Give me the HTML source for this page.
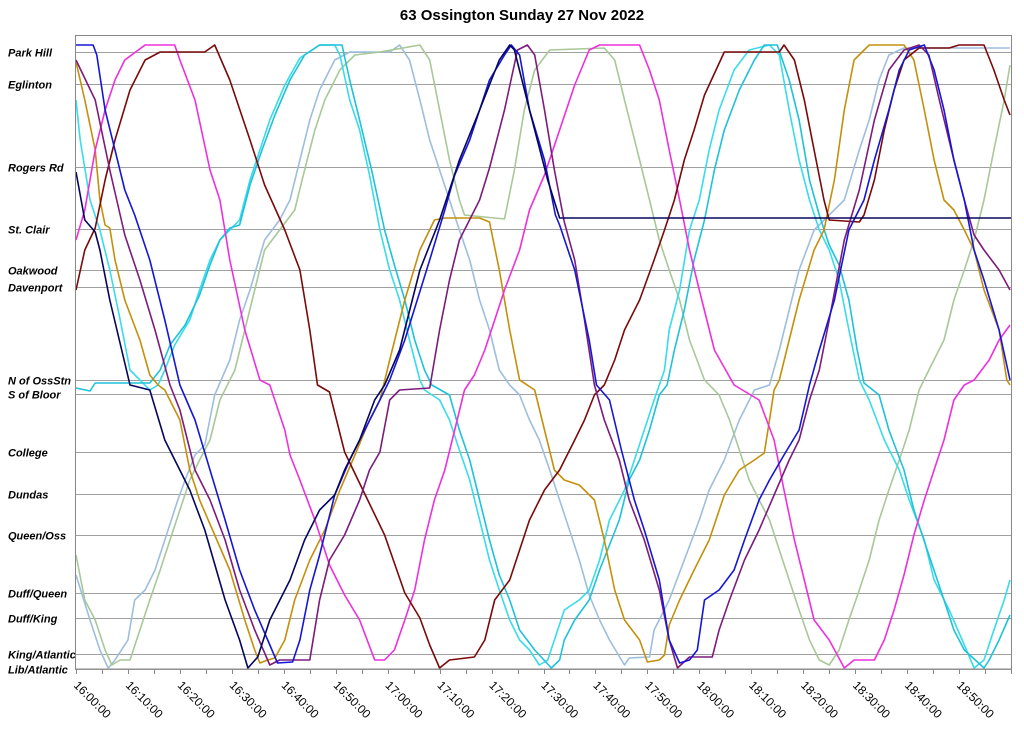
<!DOCTYPE html>
<html><head><meta charset="utf-8"><title>63 Ossington Sunday 27 Nov 2022</title>
<style>
html,body{margin:0;padding:0;background:#fff;}
body{width:1024px;height:731px;overflow:hidden;font-family:"Liberation Sans",Arial,sans-serif;}
svg{display:block;}
.st{font:bold italic 11px "Liberation Sans",Arial,sans-serif;fill:#000;}
.tk{font:12px "Liberation Sans",Arial,sans-serif;fill:#000;}
</style></head>
<body>
<svg id="chart" width="1024" height="731" viewBox="0 0 1024 731" xmlns="http://www.w3.org/2000/svg">
<text x="522" y="20" text-anchor="middle" style="font:bold 15px 'Liberation Sans',Arial,sans-serif">63 Ossington Sunday 27 Nov 2022</text>
<g id="grid"></g>
<g id="labels"></g>
<g id="series"></g>
<g id="xaxis"></g>
<rect x="75.5" y="35.5" width="936" height="633.5" fill="none" stroke="#888" stroke-width="1"/>
</svg>
<script>
// Stations (distance units from Lib/Atlantic)
const stationNames=["Park Hill","Eglinton","Rogers Rd","St. Clair","Oakwood","Davenport","N of OssStn","S of Bloor","College","Dundas","Queen/Oss","Duff/Queen","Duff/King","King/Atlantic","Lib/Atlantic"];
const stationDist=[617,585,502,440,399,382,289,275,217,175,134,76,51,15,0];
// time ticks (minutes after 16:00)
const tickMinutes=[0,10,20,30,40,50,60,70,80,90,100,110,120,130,140,150,160,170];
const tickLabels=["16:00:00","16:10:00","16:20:00","16:30:00","16:40:00","16:50:00","17:00:00","17:10:00","17:20:00","17:30:00","17:40:00","17:50:00","18:00:00","18:10:00","18:20:00","18:30:00","18:40:00","18:50:00"];

// Vehicle series: T = minutes after 16:00, D = distance
const navyT=[0,1.7,3.7,4.6,6.5,10.4,14.2,17.1,21.9,24.8,28.7,31.5,33.1,35,37.3,41.2,44,46.9,49.8,51.7,54.6,57.5,59.4,62.3,66.2,70,73.8,77.7,81.5,83.5,84.4,87.3,90.8,93.1,180];
const navyD=[497,449,437,419,369,284,279,229,179,139,69,29,1,12,49,89,129,159,174,199,229,269,284,319,399,449,509,559,609,624,619,559,489,451,451];

const blueT=[0,3.3,4.0,5.6,7.5,9.4,11.3,14.2,17.1,20,22.9,25.8,28.7,31.5,34.4,36.9,38.8,41.7,43.1,45,46.9,49.8,52.7,55.6,58.5,60.4,63.3,68.1,71,72.9,75.8,79.6,82.5,83.8,85.4,87.3,90.2,92.3,93.1,96,98.8,100.2,102.7,105,107.5,109.4,112.3,114.2,116.2,118.1,119.6,121,123.8,126.7,128.7,131.5,133.5,136.3,139.2,141.2,143.1,146,148.8,151.7,153.7,156.5,158.5,160.4,163.3,165.2,167.1,169,171,172.9,174.8,177.7,179.8];
const blueD=[624,624,614,559,519,479,454,409,349,284,249,199,149,99,59,29,6,7,29,79,114,174,209,239,269,289,329,409,459,494,529,589,614,624,614,559,509,454,444,399,329,284,269,219,169,139,89,29,6,9,19,69,79,99,129,169,189,214,239,284,319,369,439,469,509,559,599,619,624,599,559,509,469,419,389,339,289];

const purpleT=[0,3.7,6.5,9.4,12.3,15.2,18.1,20,22.9,25.8,28.7,31.5,34.4,37.3,39.2,45,46.9,48.8,51.7,54.6,56.5,58.5,60.4,62.3,68.1,70,71.9,73.8,77.7,79.6,82.5,85,86.9,88.3,90.2,92.1,94,96,97.9,99.8,101.7,104.6,106.5,109.4,112.3,114.2,115.8,118.1,122.5,123.8,125.8,128.7,131.5,134.4,137.3,139.2,141.2,143.1,145,147.9,150.8,153.7,156.5,159.4,162.3,164.2,166.2,169,171,172.9,174.8,177.7,179.8];
const purpleD=[609,569,499,434,389,339,284,259,199,169,129,79,39,4,9,9,69,109,134,169,199,217,269,279,281,339,389,429,469,501,559,619,624,614,559,499,447,409,349,284,249,209,169,129,79,29,1,12,12,39,69,109,139,174,209,229,269,299,349,429,479,549,599,619,624,614,569,509,469,434,419,399,379];

const goldT=[0,1.7,3.7,4.6,5.6,6.5,7.5,9.4,12.3,14.2,15.8,17.1,20,21.9,23.8,26.7,29.6,32.5,34.4,35.4,36.9,38.3,40.2,42.1,45,47.9,50.8,53.7,56.5,58.5,60.4,63.3,66.2,69,71,77.7,79.6,81.5,83.5,85.4,88.3,90.2,92.1,94,96.9,99.8,101.7,103.7,105.6,108.5,110,112.3,113.3,114.2,116.2,119,121.9,124.8,127.7,130.6,132.5,133.5,134.4,135.4,137.3,139.2,142.1,144,146,147.9,149.8,152.7,159.4,161.3,163.3,165.2,167.1,169,171,172.9,174.8,177.7,179.2,179.8];
const goldD=[607,569,519,469,444,441,409,369,329,294,284,279,249,199,169,134,99,49,19,6,9,11,29,69,109,139,179,214,249,269,309,369,419,449,451,451,447,399,339,289,279,239,199,189,184,169,129,79,49,29,7,9,14,44,69,99,129,174,199,209,216,249,279,289,329,369,419,439,489,559,609,624,624,609,559,509,469,459,439,419,379,339,289,284];

const magentaT=[0,1.7,3.7,5.6,7.5,9.4,13.3,19,20,22.9,25.8,27.7,29.6,32.5,35.4,37.3,40.2,41.2,43.1,46,48.8,51.7,54.6,57.5,59.4,61.3,63.3,65.2,67.1,69,71,72.9,74.8,76.7,78.7,80.6,82.5,85.4,87.3,90.2,93.1,96,98.8,100.8,108.5,110.4,112.3,114.2,116.2,118.1,120,122.9,126.7,131.5,134.4,136.3,138.3,140.2,142.1,145,147.9,149.8,153.7,155.6,157.5,159.4,161.3,163.3,165.2,167.1,169,171,172.9,175.8,177.7,179.8];
const magentaD=[429,459,519,559,589,609,624,624,609,569,499,469,409,339,289,284,239,214,189,149,104,74,49,9,9,19,49,79,129,169,199,239,279,294,319,349,379,419,459,494,539,584,619,624,624,599,569,519,469,419,379,319,284,269,229,179,129,89,49,29,1,9,9,29,59,94,134,169,199,229,269,284,289,309,329,344];

const darkredT=[0,1.7,3.7,5.6,7.5,10.4,13.3,16.2,24.8,26.7,29.6,33.5,36.3,40.2,43.1,45,46.5,48.8,51.7,55.6,59.4,63.3,66.2,68.1,70,71.9,76.7,78.7,80.6,83.5,85.4,87.3,90.2,93.1,96,97.9,99.8,101.7,103.7,105.6,108.5,111.3,113.3,115.2,117.1,119,121,124.8,135.4,136.3,138.3,140.2,142.1,144,145,150.8,151.7,153.7,155.6,157.5,159.4,162.3,168.1,170,174.8,176.7,178.7,179.8];
const darkredD=[379,419,441,489,529,579,609,617,617,624,589,529,484,439,399,339,284,277,217,175,134,76,51,24,1,9,12,29,69,89,119,149,179,199,229,249,274,284,309,339,369,409,439,469,509,539,574,617,617,624,609,569,519,469,449,447,454,489,539,579,609,621,621,624,624,599,569,554];

const cyanAT=[0,0.8,2.7,4.6,6.5,8.5,10.4,12.3,14.2,15.8,17.1,19,21.9,23.8,25.8,27.7,29.6,31.5,33.5,35.4,37.3,40.2,43.1,46.9,49.8,50.8,52.7,54.6,56.5,58.5,60.4,62.3,64.2,66.2,67.1,70,71.9,73.8,75.8,77.7,79.6,81.5,83.5,85.4,87.3,89.2,90.8,92.1,94,96.9,98.8,100.8,102.7,105.6,107.5,109.4,111.3,113.3,114.2,116.2,118.1,120,121.9,123.8,126.7,129.6,133.5,135.4,137.3,139.2,141.2,143.1,145,146.9,148.8,150.8,152.7,155.6,158.5,160.4,163.3,165.2,168.1,171,172.9,174.8,176.7,178.7,179.8];
const cyanAD=[569,529,469,439,399,349,299,289,279,284,299,324,349,379,409,429,439,449,489,519,549,584,611,624,624,614,569,539,494,439,399,369,329,289,279,269,249,219,189,149,109,79,49,29,19,4,9,29,59,69,79,109,149,179,209,239,269,299,339,379,439,469,519,559,599,619,624,614,559,509,469,439,419,389,339,289,269,229,199,169,129,89,59,24,1,9,39,69,89];

const cyanBT=[0,2.7,3.7,14.2,16.2,18.1,21,23.8,25.8,27.7,29.6,31.5,33.5,35.8,38.3,41.2,44,46.9,51.2,52.7,54.6,56.9,59.4,61.3,63.3,65.2,67.1,68.5,71.9,73.8,75.8,77.7,79.6,81.5,83.5,85.4,88.3,91.5,93.1,94,96,98.8,100.8,102.7,104.6,106.5,108.5,110.4,112.3,113.8,115.2,117.1,119,121,122.9,124.8,127.7,130.6,132.5,135,137.3,139.2,141.2,143.1,145,146.9,148.8,150.4,151.7,154.6,156.5,159.4,161.3,164.2,167.1,169,171,174.8,175.8,177.7,179.8];
const cyanBD=[281,278,286,286,299,324,344,374,404,429,441,444,484,519,554,589,614,624,624,589,549,499,439,404,369,329,299,284,274,239,209,169,129,94,69,39,19,1,9,29,49,69,99,124,149,189,209,239,274,284,319,359,409,449,499,539,579,609,624,624,589,549,489,454,424,404,369,319,286,274,239,199,159,114,69,39,19,1,9,29,54];

const steelT=[0,2.7,4.6,6.2,7.5,10,11.3,13.3,15.2,17.1,19.6,21,22.9,24.8,26.7,29.6,31.5,33.5,36.3,39.2,41.2,43.1,45,46.9,49.8,52.7,60.4,62.3,64.2,66.2,68.1,70,71.9,73.8,75.8,77.7,79.6,81.5,83.5,85.4,87.3,89.2,91.2,93.1,95,96.9,98.8,100.8,102.7,105.6,106.5,110.4,111.3,114.2,117.1,120,121.9,124.8,127.7,130.6,133.5,135.4,137.3,139.2,142.1,145,147.9,150.8,152.7,154.6,156.5,159.4,179.8];
const steelD=[94,49,19,1,9,29,69,79,99,129,169,189,214,224,274,309,349,379,429,449,469,509,549,579,609,617,617,624,609,569,529,499,469,439,409,369,339,299,284,274,249,229,199,169,139,109,74,49,29,4,11,12,39,69,109,149,179,209,249,279,284,319,359,399,439,454,469,519,549,589,614,621,621];

const sageT=[0,1.7,3.7,5.6,6.9,8.5,10.4,12.3,14.2,16.2,18.1,20,21.9,23.8,25.8,27.7,30.6,32.5,34.4,36.3,39.2,42.1,44,46,47.9,50.8,53.7,58.5,66.2,68.1,70,71.9,73.8,74.8,82.5,84.4,86.3,88.3,91.2,101.7,103.7,105.6,108.5,110.4,112.3,114.2,116.2,118.1,121,123.8,125.8,127.7,129.6,131.5,133.5,135.4,137.3,139.2,141.2,143.1,145,146.9,148.8,150.8,152.7,154.6,156.5,158.5,160.4,162.3,164.2,167.1,169,171,172.9,174.8,176.7,178.7,179.8];
const sageD=[114,69,49,19,4,9,9,39,69,99,129,159,189,209,229,269,299,339,379,419,439,459,499,539,569,599,614,617,624,609,559,509,469,454,450,499,559,599,619,621,609,569,509,469,429,399,369,329,289,274,249,219,189,169,149,119,89,59,29,9,4,19,49,79,109,149,179,209,239,279,299,329,369,399,429,469,519,569,604];

const NS='http://www.w3.org/2000/svg';
const X0=76, X1=1011, Y0=669, Y1=45;
function xScale(t){return X0+t*(X1-X0)/180;}
function yScale(d){return Y0-d*(Y0-Y1)/624;}
function mk(tag,attrs,parent){const e=document.createElementNS(NS,tag);for(const k in attrs)e.setAttribute(k,attrs[k]);parent.appendChild(e);return e;}

const grid=document.getElementById('grid'), labels=document.getElementById('labels');
stationNames.forEach((n,i)=>{
  const y=Math.round(yScale(stationDist[i]))+0.5;
  const ln=mk('line',{x1:75,x2:1011,y1:y,y2:y,stroke:'#a0a0a0','stroke-width':1},grid);
  
  
  const tx=mk('text',{x:8,y:y+4,class:'st'},labels);
  tx.textContent=n;
  
  
});

const xa=document.getElementById('xaxis');
for(let m=0;m<=180;m+=5){
  const x=Math.round(xScale(m))+0.5;
  const tm=mk('line',{x1:x,x2:x,y1:669,y2:674,stroke:'#888','stroke-width':1},xa);
  
  
}
tickMinutes.forEach((m,i)=>{
  const x=xScale(m);
  const t=mk('text',{x:0,y:0,class:'tk',transform:'translate('+(x-3)+',686) rotate(45)'},xa);
  t.textContent=tickLabels[i];
  
  
});

const series=[
 ['steel-blue-run',steelT,steelD,'#9ebedd'],
 ['sage-run',sageT,sageD,'#a8c898'],
 ['cyan-a-run',cyanAT,cyanAD,'#38dcea'],
 ['cyan-b-run',cyanBT,cyanBD,'#1fc2da'],
 ['gold-run',goldT,goldD,'#c4900c'],
 ['magenta-run',magentaT,magentaD,'#ee30dc'],
 ['dark-red-run',darkredT,darkredD,'#7a0a0a'],
 ['purple-run',purpleT,purpleD,'#7c1c7c'],
 ['blue-run',blueT,blueD,'#1616d6'],
 ['navy-run',navyT,navyD,'#06065e']
];
const sg=document.getElementById('series');
series.forEach(s=>{
  const T=s[1],D=s[2],n=Math.min(T.length,D.length);
  let p='';
  for(let i=0;i<n;i++)p+=(i?'L':'M')+xScale(T[i]).toFixed(1)+' '+yScale(D[i]).toFixed(1);
  const path=mk('path',{d:p,fill:'none',stroke:s[3],'stroke-width':1.6,'stroke-linejoin':'round'},sg);
  
  
});
</script>
</body></html>
